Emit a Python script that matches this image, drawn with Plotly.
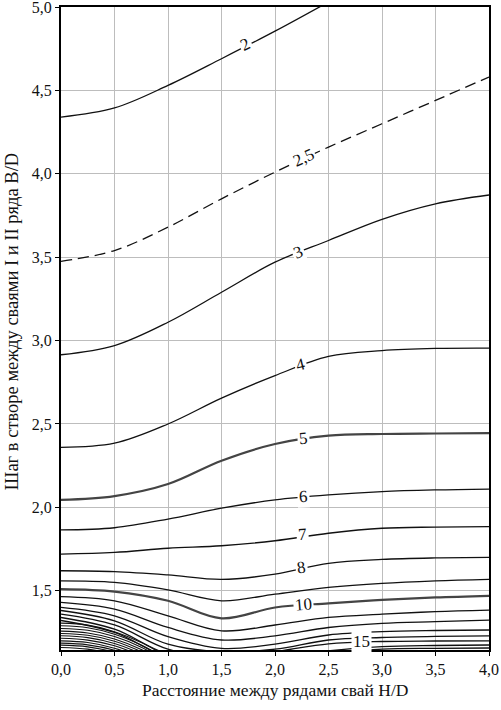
import plotly.graph_objects as go

# ---------------- data ----------------
X_MAIN = [0.0, 0.5, 1.0, 1.5, 2.0, 2.5, 3.0, 3.5, 4.0]
X_L2 = [0.0, 0.5, 1.0, 1.5, 2.0, 2.5]
X_FAN = [0.0, 0.25, 0.5, 0.75, 1.0, 1.25]

Y_L2 = [4.34, 4.395, 4.53, 4.69, 4.855, 5.03]
Y_L2_5 = [3.475, 3.54, 3.68, 3.85, 4.01, 4.16, 4.30, 4.44, 4.58]
Y_L3 = [2.915, 2.97, 3.11, 3.29, 3.47, 3.60, 3.727, 3.82, 3.873]
Y_L4 = [2.36, 2.385, 2.50, 2.655, 2.79, 2.905, 2.94, 2.953, 2.955]
Y_L5 = [2.045, 2.068, 2.14, 2.28, 2.38, 2.43, 2.44, 2.443, 2.445]
Y_L6 = [1.865, 1.878, 1.93, 1.995, 2.045, 2.075, 2.095, 2.105, 2.11]
Y_L7 = [1.72, 1.73, 1.755, 1.77, 1.80, 1.845, 1.875, 1.882, 1.885]
Y_L8 = [1.62, 1.615, 1.595, 1.568, 1.60, 1.665, 1.688, 1.697, 1.70]
Y_L9 = [1.559, 1.55, 1.505, 1.44, 1.48, 1.52, 1.545, 1.56, 1.569]
Y_L10 = [1.51, 1.495, 1.44, 1.335, 1.40, 1.425, 1.445, 1.46, 1.47]
Y_L11 = [1.465, 1.44, 1.35, 1.26, 1.295, 1.34, 1.36, 1.375, 1.384]
Y_L12 = [1.43, 1.39, 1.28, 1.205, 1.23, 1.28, 1.305, 1.315, 1.324]
Y_L13 = [1.40, 1.35, 1.225, 1.155, 1.18, 1.235, 1.255, 1.262, 1.265]
Y_L14 = [1.382, 1.32, 1.18, 1.135, 1.15, 1.205, 1.22, 1.227, 1.23]
Y_L15 = [1.36, 1.295, 1.15, 1.10, 1.135, 1.182, 1.196, 1.199, 1.20]
Y_L16 = [1.34, 1.27, 1.12, 1.08, 1.10, 1.14, 1.165, 1.172, 1.175]
Y_L17 = [1.322, 1.25, 1.10, 1.06, 1.08, 1.12, 1.15, 1.155, 1.157]

Y_L18 = [1.306, 1.294, 1.255, 1.19, 1.10, 1.00]
Y_L19 = [1.290, 1.278, 1.240, 1.175, 1.085, 0.99]
Y_L20 = [1.274, 1.263, 1.226, 1.162, 1.07, 0.97]
Y_L21 = [1.258, 1.247, 1.211, 1.148, 1.06, 0.96]
Y_L22 = [1.244, 1.233, 1.198, 1.135, 1.05, 0.95]
Y_L23 = [1.230, 1.219, 1.184, 1.122, 1.04, 0.94]
Y_L24 = [1.215, 1.204, 1.170, 1.108, 1.02, 0.92]
Y_L25 = [1.200, 1.190, 1.156, 1.095, 1.01, 0.91]
Y_L26 = [1.186, 1.176, 1.143, 1.082, 1.00, 0.90]
Y_L27 = [1.174, 1.164, 1.131, 1.07, 0.99, 0.89]
Y_L28 = [1.160, 1.150, 1.118, 1.06, 0.98, 0.88]

LABEL_TEXT = ["2", "2,5", "3", "4", "5", "6", "7", "8", "10", "15"]
LABEL_X = [1.72, 2.27, 2.215, 2.24, 2.265, 2.265, 2.26, 2.25, 2.265, 2.81]
LABEL_Y = [4.775, 4.098, 3.527, 2.858, 2.414, 2.064, 1.84, 1.641, 1.415, 1.195]
LABEL_ANGLE = [-26, -24, -22, -14, -5, -3, -4, -8, -5, 0]

X_TICKS = [0.0, 0.5, 1.0, 1.5, 2.0, 2.5, 3.0, 3.5, 4.0]
X_TICK_TEXT = ["0,0", "0,5", "1,0", "1,5", "2,0", "2,5", "3,0", "3,5", "4,0"]
Y_TICKS = [1.5, 2.0, 2.5, 3.0, 3.5, 4.0, 4.5, 5.0]
Y_TICK_TEXT = ["1,5", "2,0", "2,5", "3,0", "3,5", "4,0", "4,5", "5,0"]

X_TITLE = "Расстояние между рядами свай H/D"
Y_TITLE = "Шаг в створе между сваями I и II ряда B/D"

# ---------------- figure ----------------
FONT = "Liberation Serif, Times New Roman, serif"
fig = go.Figure()

def add_line(xs, ys, color="#111111", width=1.3, dash="solid"):
    fig.add_trace(go.Scatter(x=xs, y=ys, mode="lines",
                             line=dict(color=color, width=width, dash=dash, shape="spline", smoothing=1.0),
                             hoverinfo="skip", showlegend=False))

add_line(X_L2, Y_L2)
add_line(X_MAIN, Y_L2_5, dash="11px,6px")
add_line(X_MAIN, Y_L3)
add_line(X_MAIN, Y_L4)
add_line(X_MAIN, Y_L5, color="#444444", width=2.2)
add_line(X_MAIN, Y_L6)
add_line(X_MAIN, Y_L7)
add_line(X_MAIN, Y_L8)
add_line(X_MAIN, Y_L9)
add_line(X_MAIN, Y_L10, color="#444444", width=2.2)
for ys in [Y_L11, Y_L12, Y_L13, Y_L14, Y_L15, Y_L16, Y_L17]:
    add_line(X_MAIN, ys)
for ys in [Y_L18, Y_L19, Y_L20, Y_L21, Y_L22, Y_L23, Y_L24, Y_L25, Y_L26, Y_L27, Y_L28]:
    add_line(X_FAN, ys, width=1.1)

for t, lx, ly, a in zip(LABEL_TEXT, LABEL_X, LABEL_Y, LABEL_ANGLE):
    fig.add_annotation(x=lx, y=ly, text=t, showarrow=False, textangle=a,
                       font=dict(family=FONT, size=17, color="#111111"),
                       bgcolor="white", borderpad=1)

# axis titles as paper-anchored annotations
fig.add_annotation(xref="paper", yref="paper", x=0.5, y=-0.062, text=X_TITLE,
                   showarrow=False, xanchor="center", yanchor="middle",
                   font=dict(family=FONT, size=17.5, color="#111111"))
fig.add_annotation(xref="paper", yref="paper", x=-0.114, y=0.51, text=Y_TITLE,
                   showarrow=False, xanchor="center", yanchor="middle", textangle=-90,
                   font=dict(family=FONT, size=18.5, color="#111111"))

axis_common = dict(showgrid=True, gridcolor="#bdbdbd", gridwidth=1.4,
                   showline=True, linecolor="black", linewidth=2, mirror=True,
                   zeroline=False, ticks="outside", ticklen=4, tickcolor="black",
                   automargin=False, ticklabeloverflow="allow",
                   tickfont=dict(family=FONT, size=16, color="#111111"))

fig.update_xaxes(range=[0, 4], tickvals=X_TICKS, ticktext=X_TICK_TEXT, **axis_common)
fig.update_yaxes(range=[1.145, 5.0], tickvals=Y_TICKS, ticktext=Y_TICK_TEXT, **axis_common)

fig.update_layout(width=501, height=710, margin=dict(l=61, r=12, t=7, b=60),
                  plot_bgcolor="white", paper_bgcolor="white", showlegend=False)

fig.write_html("out.html", config={"displayModeBar": False},
               post_script="document.body.style.margin='0';document.body.style.overflow='hidden';")
